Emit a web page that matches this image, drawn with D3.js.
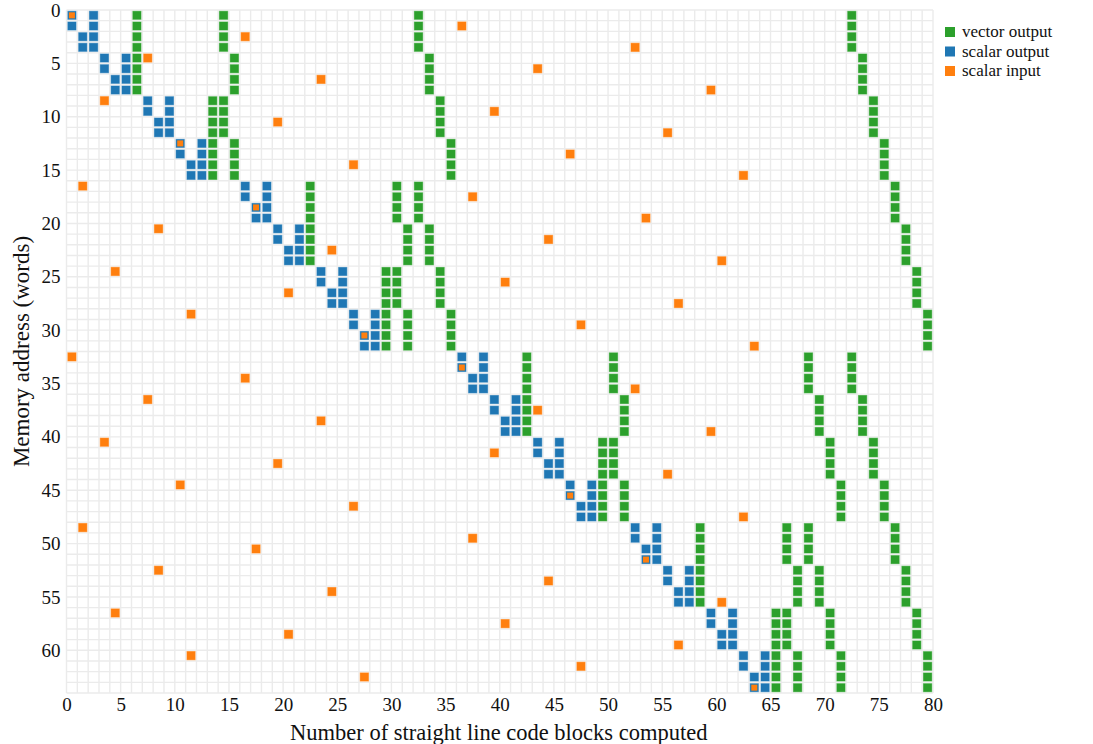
<!DOCTYPE html>
<html>
<head>
<meta charset="utf-8">
<script src="https://cdn.jsdelivr.net/npm/d3@7"></script>
<style>
  body { margin: 0; background: #fff; }
  text { font-family: "Liberation Serif", serif; fill: #111; }
</style>
</head>
<body>
<div id="chart"></div>
<script>
// vector output: [column, first row, last row]
const vectorOutput = [
  [6, 0, 7], [14, 0, 3], [32, 0, 3], [72, 0, 3],
  [15, 4, 7], [33, 4, 7], [73, 4, 7],
  [13, 8, 15], [14, 8, 11], [34, 8, 11], [74, 8, 11],
  [15, 12, 15], [35, 12, 15], [75, 12, 15],
  [22, 16, 23], [30, 16, 19], [32, 16, 19], [76, 16, 19],
  [31, 20, 23], [33, 20, 23], [77, 20, 23],
  [29, 24, 31], [30, 24, 27], [34, 24, 27], [78, 24, 27],
  [31, 28, 31], [35, 28, 31], [79, 28, 31],
  [42, 32, 39], [50, 32, 35], [68, 32, 35], [72, 32, 35],
  [51, 36, 39], [69, 36, 39], [73, 36, 39],
  [49, 40, 47], [50, 40, 43], [70, 40, 43], [74, 40, 43],
  [51, 44, 47], [71, 44, 47], [75, 44, 47],
  [58, 48, 55], [66, 48, 51], [68, 48, 51], [76, 48, 51],
  [67, 52, 55], [69, 52, 55], [77, 52, 55],
  [65, 56, 63], [66, 56, 59], [70, 56, 59], [78, 56, 59],
  [67, 60, 63], [71, 60, 63], [79, 60, 63]
];

// scalar output: [column, first row, last row]
const scalarOutput = [
  [0, 0, 1], [1, 2, 3], [2, 0, 3],
  [3, 4, 5], [4, 6, 7], [5, 4, 7],
  [7, 8, 9], [8, 10, 11], [9, 8, 11],
  [10, 12, 13], [11, 14, 15], [12, 12, 15],
  [16, 16, 17], [17, 18, 19], [18, 16, 19],
  [19, 20, 21], [20, 22, 23], [21, 20, 23],
  [23, 24, 25], [24, 26, 27], [25, 24, 27],
  [26, 28, 29], [27, 30, 31], [28, 28, 31],
  [36, 32, 33], [37, 34, 35], [38, 32, 35],
  [39, 36, 37], [40, 38, 39], [41, 36, 39],
  [43, 40, 41], [44, 42, 43], [45, 40, 43],
  [46, 44, 45], [47, 46, 47], [48, 44, 47],
  [52, 48, 49], [53, 50, 51], [54, 48, 51],
  [55, 52, 53], [56, 54, 55], [57, 52, 55],
  [59, 56, 57], [60, 58, 59], [61, 56, 59],
  [62, 60, 61], [63, 62, 63], [64, 60, 63]
];

// scalar input: column read for each memory row 0..63
const scalarInputCols = [
  0, 36, 16, 52, 7, 43, 23, 59, 3, 39, 19, 55, 10, 46, 26, 62,
  1, 37, 17, 53, 8, 44, 24, 60, 4, 40, 20, 56, 11, 47, 27, 63,
  0, 36, 16, 52, 7, 43, 23, 59, 3, 39, 19, 55, 10, 46, 26, 62,
  1, 37, 17, 53, 8, 44, 24, 60, 4, 40, 20, 56, 11, 47, 27, 63
];

const xTicks = d3.range(0, 81, 5);
const yTicks = d3.range(0, 61, 5);
const legendItems = ['vector output', 'scalar output', 'scalar input'];
const colors = { 'vector output': '#2ca02c', 'scalar output': '#1f77b4', 'scalar input': '#ff7f0e' };

const config = {
  width: 1093, height: 744,
  margin: { top: 10, right: 160, bottom: 51, left: 66.5 }
};
const width = config.width - config.margin.left - config.margin.right;
const height = config.height - config.margin.top - config.margin.bottom;

const xScale = d3.scaleLinear().domain([0, 80]).range([0, width]);
const yScale = d3.scaleLinear().domain([0, 64]).range([0, height]);

const svg = d3.select('#chart').append('svg')
  .attr('width', config.width)
  .attr('height', config.height);

const chart = svg.append('g')
  .attr('transform', `translate(${config.margin.left},${config.margin.top})`);

// grid lines at every integer
chart.append('g').selectAll('line.vgrid')
  .data(d3.range(0, 81))
  .join('line')
  .attr('x1', d => xScale(d)).attr('x2', d => xScale(d))
  .attr('y1', 0).attr('y2', height)
  .attr('stroke', '#ebebeb').attr('stroke-width', 1.4);

chart.append('g').selectAll('line.hgrid')
  .data(d3.range(0, 65))
  .join('line')
  .attr('y1', d => yScale(d)).attr('y2', d => yScale(d))
  .attr('x1', 0).attr('x2', width)
  .attr('stroke', '#ebebeb').attr('stroke-width', 1.4);

// expand runs into cells
const runsToCells = (runs, type) => runs.flatMap(([c, r0, r1]) =>
  d3.range(r0, r1 + 1).map(r => ({ col: c, row: r, type })));

const vectorCells = runsToCells(vectorOutput, 'vector output');
const scalarCells = runsToCells(scalarOutput, 'scalar output');
const inputCells = scalarInputCols.map((c, r) => ({ col: c, row: r, type: 'scalar input' }));

const isCovered = d => scalarCells.some(s => s.col === d.col && s.row === d.row);

const cw = xScale(1) - xScale(0);
const ch = yScale(1) - yScale(0);
const inset = 0.8;

function drawCells(cells, cls) {
  chart.append('g').attr('class', cls).selectAll('rect')
    .data(cells)
    .join('rect')
    .attr('x', d => xScale(d.col) + inset)
    .attr('y', d => yScale(d.row) + inset)
    .attr('width', cw - 2 * inset)
    .attr('height', ch - 2 * inset)
    .attr('fill', d => colors[d.type])
    .attr('stroke', '#fff')
    .attr('stroke-opacity', 0.4)
    .attr('stroke-width', 1);
}

drawCells(vectorCells, 'vector');
drawCells(scalarCells, 'scalar');

// scalar inputs, smaller when sitting on a scalar output cell
chart.append('g').attr('class', 'input').selectAll('rect')
  .data(inputCells)
  .join('rect')
  .each(function (d) {
    const s = isCovered(d) ? 6 : cw - 2 * inset;
    d3.select(this)
      .attr('x', xScale(d.col) + cw / 2 - s / 2)
      .attr('y', yScale(d.row) + ch / 2 - s / 2)
      .attr('width', s)
      .attr('height', s)
      .attr('fill', colors[d.type])
      .attr('stroke', '#fff')
      .attr('stroke-opacity', isCovered(d) ? 0 : 0.4)
      .attr('stroke-width', 1);
  });

// axes
const xAxis = d3.axisBottom(xScale).tickValues(xTicks).tickSize(0).tickPadding(5);
const yAxis = d3.axisLeft(yScale).tickValues(yTicks).tickSize(0).tickPadding(6);

chart.append('g')
  .attr('transform', `translate(0,${height})`)
  .call(xAxis)
  .call(g => g.select('.domain').remove())
  .call(g => g.selectAll('text').style('font-size', '19px').style('font-family', '"Liberation Serif", serif').attr('fill', '#111'));

chart.append('g')
  .call(yAxis)
  .call(g => g.select('.domain').remove())
  .call(g => g.selectAll('text').style('font-size', '19px').style('font-family', '"Liberation Serif", serif').attr('fill', '#111'));

// axis titles
chart.append('text')
  .attr('x', width / 2 - 1)
  .attr('y', height + 47)
  .attr('text-anchor', 'middle')
  .style('font-size', '22.5px')
  .text('Number of straight line code blocks computed');

chart.append('text')
  .attr('transform', `translate(${-38},${height / 2}) rotate(-90)`)
  .attr('text-anchor', 'middle')
  .style('font-size', '23px')
  .text('Memory address (words)');

// legend
const legend = svg.append('g')
  .attr('transform', 'translate(945,27)');

const items = legend.selectAll('g')
  .data(legendItems)
  .join('g')
  .attr('transform', (d, i) => `translate(0,${i * 19.5})`);

items.append('rect')
  .attr('width', 10).attr('height', 10)
  .attr('fill', d => colors[d]);

items.append('text')
  .attr('x', 17)
  .attr('y', 10)
  .style('font-size', '17px')
  .text(d => d);
</script>
</body>
</html>
